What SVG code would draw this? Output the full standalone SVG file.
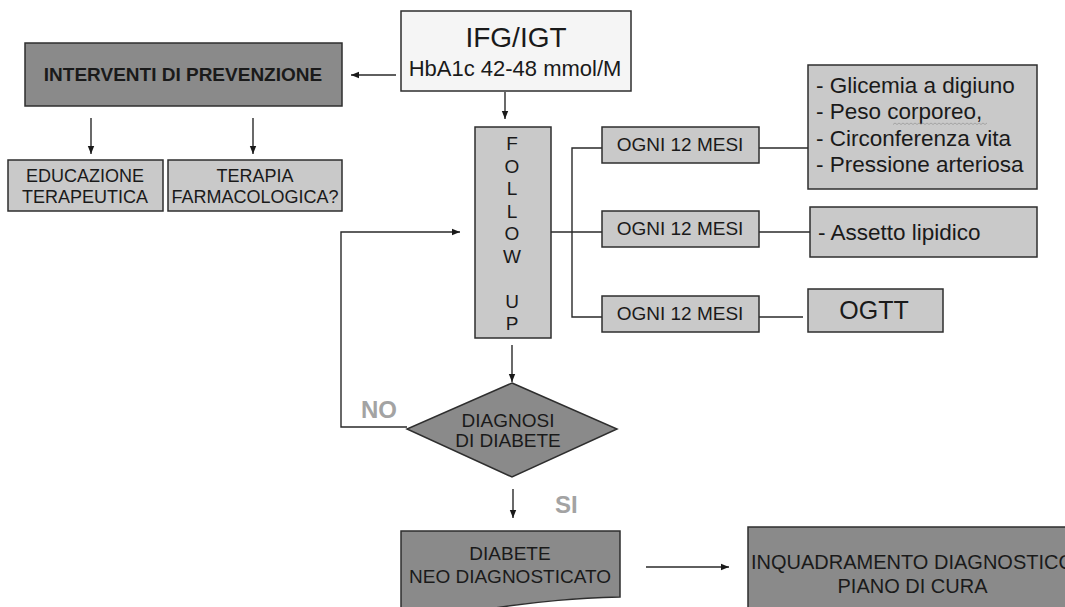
<svg xmlns="http://www.w3.org/2000/svg" width="1065" height="607" viewBox="0 0 1065 607">
<style>
  text { font-family: "Liberation Sans", Arial, sans-serif; fill: #1a1a1a; }
  .light { fill: #c9c9c9; stroke: #2e2e2e; stroke-width: 1.5; }
  .dark { fill: #8a8a8a; stroke: #2e2e2e; stroke-width: 1.5; }
  .white { fill: #f5f5f5; stroke: #2e2e2e; stroke-width: 1.5; }
  .c { text-anchor: middle; }
  .conn { fill: none; stroke: #2a2a2a; stroke-width: 1.4; }
  .lbl { font-weight: bold; fill: #a3a3a3; }
</style>
<defs>
  <marker id="ah" viewBox="0 0 10 10" refX="10" refY="5" markerWidth="8" markerHeight="8" markerUnits="userSpaceOnUse" orient="auto">
    <path d="M0,1 L10,5 L0,9 Z" fill="#1a1a1a"/>
  </marker>
</defs>
<rect width="1065" height="607" fill="#ffffff"/>

<g id="connectors">
  <line class="conn" x1="396" y1="75" x2="351" y2="75" marker-end="url(#ah)"/>
  <line class="conn" x1="505" y1="92" x2="505" y2="119" marker-end="url(#ah)"/>
  <line class="conn" x1="91" y1="118" x2="91" y2="154" marker-end="url(#ah)"/>
  <line class="conn" x1="253" y1="118" x2="253" y2="154" marker-end="url(#ah)"/>
  <line class="conn" x1="551" y1="232" x2="602" y2="232"/>
  <polyline class="conn" points="602,148 572,148 572,317 602,317"/>
  <line class="conn" x1="759" y1="148" x2="808" y2="148"/>
  <line class="conn" x1="759" y1="232" x2="810" y2="232"/>
  <line class="conn" x1="759" y1="317" x2="803" y2="317"/>
  <line class="conn" x1="512" y1="345" x2="512" y2="382" marker-end="url(#ah)"/>
  <polyline class="conn" points="407,427 341,427 341,232 460,232" marker-end="url(#ah)"/>
  <line class="conn" x1="513" y1="489" x2="513" y2="518" marker-end="url(#ah)"/>
  <line class="conn" x1="646" y1="567" x2="729" y2="567" marker-end="url(#ah)"/>
</g>

<g id="ifg">
  <rect class="white" x="401" y="11" width="230" height="80"/>
  <text class="c" x="516" y="47" font-size="28">IFG/IGT</text>
  <text class="c" x="515" y="76" font-size="22">HbA1c 42-48 mmol/M</text>
</g>

<g id="interventi">
  <rect class="dark" x="25" y="43" width="317" height="63"/>
  <text class="c" x="183" y="81" font-size="19" font-weight="bold">INTERVENTI DI PREVENZIONE</text>
</g>

<g id="educazione">
  <rect class="light" x="8" y="160" width="155" height="51"/>
  <text class="c" x="85" y="182" font-size="18">EDUCAZIONE</text>
  <text class="c" x="85" y="203" font-size="18">TERAPEUTICA</text>
</g>

<g id="terapia">
  <rect class="light" x="168" y="160" width="174" height="51"/>
  <text class="c" x="255" y="182" font-size="18">TERAPIA</text>
  <text class="c" x="255" y="203" font-size="18">FARMACOLOGICA?</text>
</g>

<g id="followup">
  <rect class="light" x="475" y="127" width="76" height="211"/>
  <g font-size="19">
    <text class="c" x="512" y="150">F</text>
    <text class="c" x="512" y="172.5">O</text>
    <text class="c" x="512" y="195">L</text>
    <text class="c" x="512" y="217.5">L</text>
    <text class="c" x="512" y="240">O</text>
    <text class="c" x="512" y="262.5">W</text>
    <text class="c" x="512" y="308">U</text>
    <text class="c" x="512" y="330">P</text>
  </g>
</g>

<g id="ogni1">
  <rect class="light" x="602" y="127" width="157" height="36"/>
  <text class="c" x="680" y="151" font-size="19">OGNI 12 MESI</text>
</g>
<g id="ogni2">
  <rect class="light" x="602" y="211" width="157" height="36"/>
  <text class="c" x="680" y="235" font-size="19">OGNI 12 MESI</text>
</g>
<g id="ogni3">
  <rect class="light" x="602" y="296" width="157" height="36"/>
  <text class="c" x="680" y="320" font-size="19">OGNI 12 MESI</text>
</g>

<g id="glicemia">
  <rect class="light" x="808" y="65" width="229" height="124"/>
  <g font-size="22.5">
    <text x="816" y="93">- Glicemia a digiuno</text>
    <text x="816" y="119">- Peso corporeo,</text>
    <text x="816" y="146">- Circonferenza vita</text>
    <text x="816" y="172">- Pressione arteriosa</text>
  </g>
  <path d="M893,124.5 l2,-1.5 l2,1.5 l2,-1.5 l2,1.5 l2,-1.5 l2,1.5 l2,-1.5 l2,1.5 l2,-1.5 l2,1.5 l2,-1.5 l2,1.5 l2,-1.5 l2,1.5 l2,-1.5 l2,1.5 l2,-1.5 l2,1.5 l2,-1.5 l2,1.5 l2,-1.5 l2,1.5 l2,-1.5 l2,1.5 l2,-1.5 l2,1.5 l2,-1.5 l2,1.5 l2,-1.5 l2,1.5 l2,-1.5 l2,1.5 l2,-1.5 l2,1.5 l2,-1.5 l2,1.5 l2,-1.5 l2,1.5 l2,-1.5 l2,1.5 l2,-1.5 l2,1.5 l2,-1.5 l2,1.5 l2,-1.5 l2,1.5 l2,-1.5" fill="none" stroke="#9a9a9a" stroke-width="0.8"/>
</g>

<g id="assetto">
  <rect class="light" x="810" y="207" width="227" height="50"/>
  <text x="818" y="240" font-size="22.5">- Assetto lipidico</text>
</g>

<g id="ogtt">
  <rect class="light" x="808" y="289" width="135" height="43"/>
  <text class="c" x="874" y="319" font-size="25">OGTT</text>
</g>

<g id="diagnosi">
  <polygon class="dark" points="512,383 617,429 512,477 407,429"/>
  <text class="c" x="508" y="427" font-size="19">DIAGNOSI</text>
  <text class="c" x="508" y="447" font-size="19">DI DIABETE</text>
</g>

<g id="labels">
  <text class="lbl" x="361" y="418" font-size="24">NO</text>
  <text class="lbl" x="555" y="513" font-size="24">SI</text>
</g>

<g id="diabete">
  <path class="dark" d="M401,531 H620 V597 C585,598 540,600 470,612 L401,625 Z"/>
  <text class="c" x="510" y="560" font-size="19">DIABETE</text>
  <text class="c" x="510" y="583" font-size="19">NEO DIAGNOSTICATO</text>
</g>

<g id="inquadramento">
  <rect class="dark" x="748" y="527" width="340" height="100"/>
  <text class="c" x="912.5" y="569" font-size="20">INQUADRAMENTO DIAGNOSTICO</text>
  <text class="c" x="912.5" y="593" font-size="20">PIANO DI CURA</text>
</g>
</svg>
